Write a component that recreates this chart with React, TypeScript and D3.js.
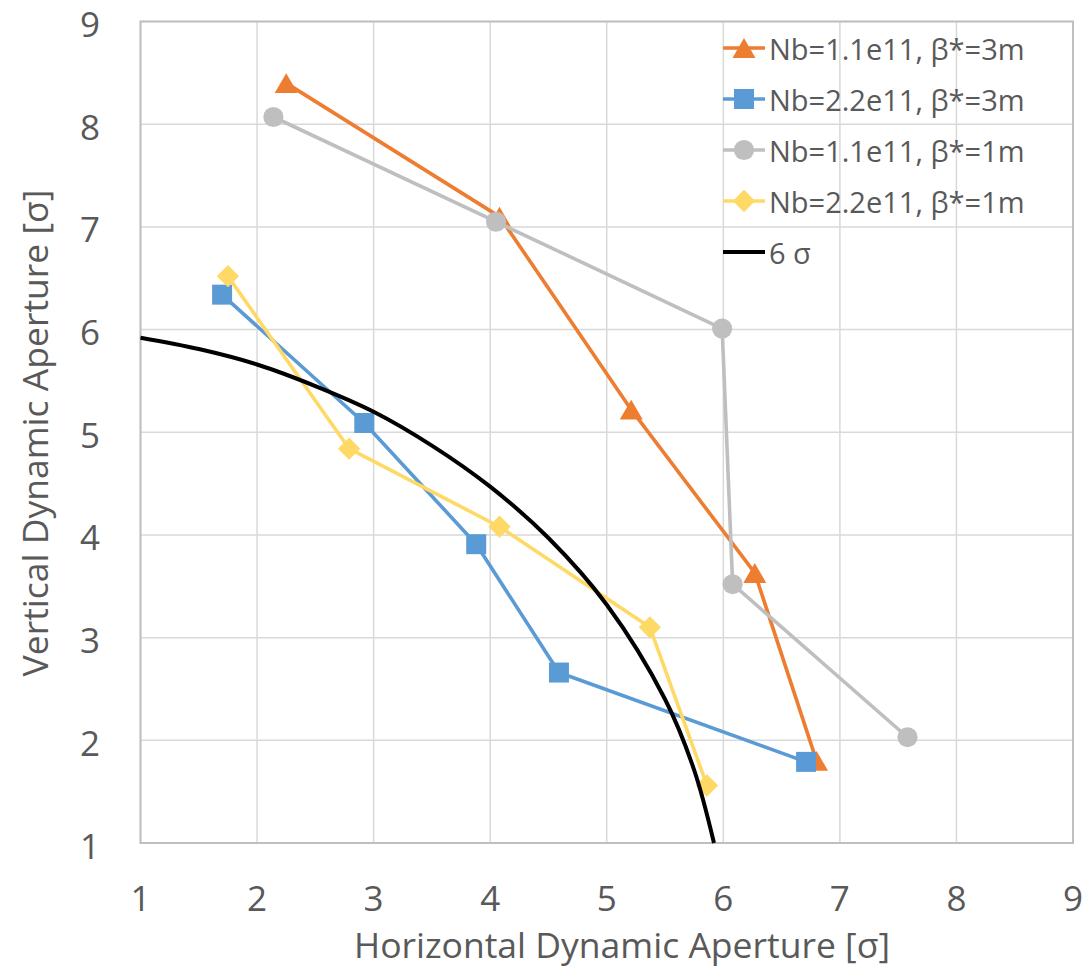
import React from "react";
import * as d3 from "d3";

const seriesNames = [
  "Nb=1.1e11, β*=3m",
  "Nb=2.2e11, β*=3m",
  "Nb=1.1e11, β*=1m",
  "Nb=2.2e11, β*=1m",
  "6 σ",
];
const orangeX = [2.25, 4.08, 5.21, 6.27, 6.8];
const orangeY = [8.4, 7.1, 5.22, 3.63, 1.8];
const blueX = [1.7, 2.92, 3.88, 4.59, 6.71];
const blueY = [6.34, 5.09, 3.91, 2.66, 1.79];
const grayX = [2.14, 4.05, 5.99, 6.08, 7.58];
const grayY = [8.07, 7.05, 6.01, 3.52, 2.03];
const yellowX = [1.75, 2.79, 4.08, 5.37, 5.86];
const yellowY = [6.52, 4.84, 4.08, 3.1, 1.56];
const sigmaX = [1.0, 1.5, 2.0, 2.5, 3.0, 3.5, 4.0, 4.5, 5.0, 5.5, 5.75, 5.92];
const sigmaY = [5.92, 5.81, 5.66, 5.45, 5.2, 4.87, 4.47, 3.97, 3.32, 2.4, 1.71, 1.0];
const xTicks = [1, 2, 3, 4, 5, 6, 7, 8, 9];
const yTicks = [1, 2, 3, 4, 5, 6, 7, 8, 9];

const colors = ["#ED7D31", "#5B9BD5", "#BFBFBF", "#FFD966", "#000000"];
const markers = ["triangle", "square", "circle", "diamond", "none"];

const FONT = "'Open Sans', sans-serif";
const TEXT = "#595959";

const TRI_SIDE = 23;
const TRI_AREA = (Math.sqrt(3) / 4) * TRI_SIDE * TRI_SIDE;
const TRI_H = (TRI_SIDE * Math.sqrt(3)) / 2;

function Marker({ type, x, y, color }: { type: string; x: number; y: number; color: string }) {
  if (type === "triangle") {
    const p = d3.symbol().type(d3.symbolTriangle).size(TRI_AREA)();
    return <path d={p || ""} transform={`translate(${x},${y + TRI_H / 6})`} fill={color} />;
  }
  if (type === "square") {
    const p = d3.symbol().type(d3.symbolSquare).size(400)();
    return <path d={p || ""} transform={`translate(${x},${y})`} fill={color} />;
  }
  if (type === "circle") {
    const p = d3.symbol().type(d3.symbolCircle).size(320)();
    return <path d={p || ""} transform={`translate(${x},${y})`} fill={color} />;
  }
  if (type === "diamond") {
    const p = d3.symbol().type(d3.symbolSquare).size(250)();
    return <path d={p || ""} transform={`translate(${x},${y}) rotate(45)`} fill={color} />;
  }
  return null;
}

export default function App() {
  const W = 1085;
  const H = 970;
  const x = d3.scaleLinear().domain([1, 9]).range([140.5, 1073]);
  const y = d3.scaleLinear().domain([1, 9]).range([843, 21.5]);

  const series = [
    { xs: orangeX, ys: orangeY },
    { xs: blueX, ys: blueY },
    { xs: grayX, ys: grayY },
    { xs: yellowX, ys: yellowY },
  ];

  const line = d3
    .line<[number, number]>()
    .x((d) => x(d[0]))
    .y((d) => y(d[1]));
  const smooth = d3
    .line<[number, number]>()
    .x((d) => x(d[0]))
    .y((d) => y(d[1]))
    .curve(d3.curveCatmullRom.alpha(0.5));

  const sigmaPts: [number, number][] = sigmaX.map((v, i) => [v, sigmaY[i]]);

  const legendX1 = 723;
  const legendX2 = 765;
  const legendTop = 48;
  const legendStep = 51;

  return (
    <svg
      width={W}
      height={H}
      style={{ position: "absolute", left: 0, top: 0, display: "block", background: "#fff" }}
    >
      <rect x={0} y={0} width={W} height={H} fill="#fff" />
      {xTicks.map((t) => (
        <line key={"gx" + t} x1={x(t)} x2={x(t)} y1={y(9)} y2={y(1)} stroke="#D9D9D9" strokeWidth={1.5} />
      ))}
      {yTicks.map((t) => (
        <line key={"gy" + t} x1={x(1)} x2={x(9)} y1={y(t)} y2={y(t)} stroke="#D9D9D9" strokeWidth={1.5} />
      ))}
      <rect
        x={x(1)}
        y={y(9)}
        width={x(9) - x(1)}
        height={y(1) - y(9)}
        fill="none"
        stroke="#BFBFBF"
        strokeWidth={2}
      />
      {xTicks.map((t) => (
        <text
          key={"tx" + t}
          x={x(t)}
          y={897}
          textAnchor="middle"
          dominantBaseline="central"
          fontFamily={FONT}
          fontSize={35}
          fill={TEXT}
        >
          {t}
        </text>
      ))}
      {yTicks.map((t) => (
        <text
          key={"ty" + t}
          x={100}
          y={y(t) + 2}
          textAnchor="end"
          dominantBaseline="central"
          fontFamily={FONT}
          fontSize={35}
          fill={TEXT}
        >
          {t}
        </text>
      ))}
      <text
        x={622}
        y={944}
        textAnchor="middle"
        dominantBaseline="central"
        fontFamily={FONT}
        fontSize={35.5}
        fill={TEXT}
      >
        Horizontal Dynamic Aperture [σ]
      </text>
      <text
        transform={`translate(34,433) rotate(-90)`}
        textAnchor="middle"
        dominantBaseline="central"
        fontFamily={FONT}
        fontSize={35.5}
        fill={TEXT}
      >
        Vertical Dynamic Aperture [σ]
      </text>

      {series.map((s, si) => {
        const pts: [number, number][] = s.xs.map((v, i) => [v, s.ys[i]]);
        return (
          <g key={"s" + si}>
            <path d={line(pts) || ""} fill="none" stroke={colors[si]} strokeWidth={3.6} strokeLinejoin="round" />
            {pts.map((p, i) => (
              <Marker key={i} type={markers[si]} x={x(p[0])} y={y(p[1])} color={colors[si]} />
            ))}
          </g>
        );
      })}
      <path d={smooth(sigmaPts) || ""} fill="none" stroke="#000" strokeWidth={4} />

      {seriesNames.map((n, i) => {
        const cy = legendTop + i * legendStep;
        return (
          <g key={"l" + i}>
            <line x1={legendX1} x2={legendX2} y1={cy} y2={cy} stroke={colors[i]} strokeWidth={i === 4 ? 4 : 3.6} />
            <Marker type={markers[i]} x={(legendX1 + legendX2) / 2} y={cy} color={colors[i]} />
            <text
              x={769}
              y={cy}
              dominantBaseline="central"
              fontFamily={FONT}
              fontSize={29}
              fill={TEXT}
            >
              {n}
            </text>
          </g>
        );
      })}
    </svg>
  );
}
